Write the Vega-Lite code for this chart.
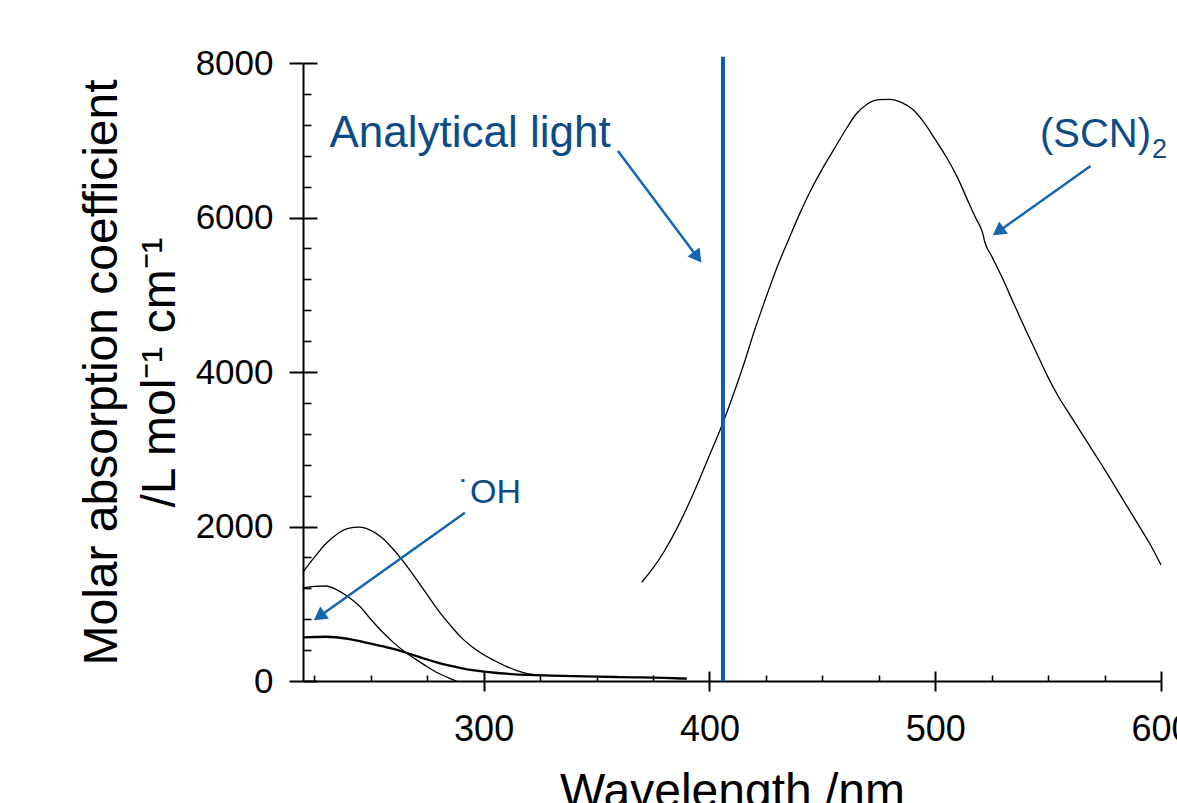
{
  "$schema": "https://vega.github.io/schema/vega-lite/v6.json",
  "width": 858,
  "height": 618,
  "autosize": {"type": "none"},
  "padding": {"left": 303, "top": 63, "right": 16, "bottom": 122},
  "background": "white",
  "config": {"view": {"stroke": null}, "font": "Liberation Sans"},
  "datasets": {
    "curves": [
      {"series": "a", "wl": 220, "eps": 1411}, {"series": "a", "wl": 225, "eps": 1600}, {"series": "a", "wl": 230, "eps": 1774},
      {"series": "a", "wl": 235, "eps": 1900}, {"series": "a", "wl": 240, "eps": 1975}, {"series": "a", "wl": 245, "eps": 1992},
      {"series": "a", "wl": 250, "eps": 1950}, {"series": "a", "wl": 255, "eps": 1855}, {"series": "a", "wl": 260, "eps": 1705},
      {"series": "a", "wl": 265, "eps": 1525}, {"series": "a", "wl": 270, "eps": 1325}, {"series": "a", "wl": 275, "eps": 1118},
      {"series": "a", "wl": 280, "eps": 912}, {"series": "a", "wl": 285, "eps": 730}, {"series": "a", "wl": 290, "eps": 565},
      {"series": "a", "wl": 295, "eps": 440}, {"series": "a", "wl": 300, "eps": 340}, {"series": "a", "wl": 305, "eps": 262},
      {"series": "a", "wl": 310, "eps": 190}, {"series": "a", "wl": 315, "eps": 132}, {"series": "a", "wl": 320, "eps": 92},
      {"series": "a", "wl": 325, "eps": 74},
      {"series": "b", "wl": 220, "eps": 1204}, {"series": "b", "wl": 225, "eps": 1225}, {"series": "b", "wl": 230, "eps": 1230},
      {"series": "b", "wl": 235, "eps": 1180}, {"series": "b", "wl": 240, "eps": 1091}, {"series": "b", "wl": 245, "eps": 970},
      {"series": "b", "wl": 250, "eps": 800}, {"series": "b", "wl": 255, "eps": 640}, {"series": "b", "wl": 260, "eps": 500},
      {"series": "b", "wl": 265, "eps": 380}, {"series": "b", "wl": 270, "eps": 280}, {"series": "b", "wl": 275, "eps": 185},
      {"series": "b", "wl": 280, "eps": 100}, {"series": "b", "wl": 285, "eps": 35}, {"series": "b", "wl": 288, "eps": 0},
      {"series": "c", "wl": 220, "eps": 565}, {"series": "c", "wl": 230, "eps": 573}, {"series": "c", "wl": 240, "eps": 545},
      {"series": "c", "wl": 246, "eps": 509}, {"series": "c", "wl": 250, "eps": 485}, {"series": "c", "wl": 255, "eps": 450},
      {"series": "c", "wl": 260, "eps": 415}, {"series": "c", "wl": 265, "eps": 372}, {"series": "c", "wl": 270, "eps": 325},
      {"series": "c", "wl": 275, "eps": 278}, {"series": "c", "wl": 280, "eps": 235}, {"series": "c", "wl": 285, "eps": 198},
      {"series": "c", "wl": 290, "eps": 166}, {"series": "c", "wl": 295, "eps": 140}, {"series": "c", "wl": 300, "eps": 122},
      {"series": "c", "wl": 305, "eps": 107}, {"series": "c", "wl": 310, "eps": 95}, {"series": "c", "wl": 320, "eps": 78},
      {"series": "c", "wl": 330, "eps": 70}, {"series": "c", "wl": 340, "eps": 62}, {"series": "c", "wl": 350, "eps": 56},
      {"series": "c", "wl": 360, "eps": 51}, {"series": "c", "wl": 370, "eps": 46}, {"series": "c", "wl": 380, "eps": 40},
      {"series": "c", "wl": 390, "eps": 30},
      {"series": "d", "wl": 370, "eps": 1278}, {"series": "d", "wl": 375, "eps": 1460}, {"series": "d", "wl": 380, "eps": 1680},
      {"series": "d", "wl": 385, "eps": 1940}, {"series": "d", "wl": 390, "eps": 2240}, {"series": "d", "wl": 395, "eps": 2570},
      {"series": "d", "wl": 400, "eps": 2920}, {"series": "d", "wl": 405, "eps": 3270}, {"series": "d", "wl": 410, "eps": 3660},
      {"series": "d", "wl": 415, "eps": 4080}, {"series": "d", "wl": 420, "eps": 4540}, {"series": "d", "wl": 425, "eps": 4960},
      {"series": "d", "wl": 430, "eps": 5360}, {"series": "d", "wl": 435, "eps": 5710}, {"series": "d", "wl": 440, "eps": 6050},
      {"series": "d", "wl": 445, "eps": 6360}, {"series": "d", "wl": 450, "eps": 6630}, {"series": "d", "wl": 455, "eps": 6875},
      {"series": "d", "wl": 460, "eps": 7120}, {"series": "d", "wl": 465, "eps": 7340}, {"series": "d", "wl": 470, "eps": 7470},
      {"series": "d", "wl": 475, "eps": 7525}, {"series": "d", "wl": 480, "eps": 7530}, {"series": "d", "wl": 485, "eps": 7490},
      {"series": "d", "wl": 490, "eps": 7400}, {"series": "d", "wl": 495, "eps": 7230}, {"series": "d", "wl": 500, "eps": 7010},
      {"series": "d", "wl": 505, "eps": 6780}, {"series": "d", "wl": 510, "eps": 6510}, {"series": "d", "wl": 515, "eps": 6180},
      {"series": "d", "wl": 518, "eps": 5990}, {"series": "d", "wl": 521, "eps": 5800}, {"series": "d", "wl": 522, "eps": 5680},
      {"series": "d", "wl": 525, "eps": 5500}, {"series": "d", "wl": 530, "eps": 5200}, {"series": "d", "wl": 535, "eps": 4870},
      {"series": "d", "wl": 540, "eps": 4550}, {"series": "d", "wl": 545, "eps": 4240}, {"series": "d", "wl": 550, "eps": 3930},
      {"series": "d", "wl": 555, "eps": 3660}, {"series": "d", "wl": 560, "eps": 3430}, {"series": "d", "wl": 565, "eps": 3200},
      {"series": "d", "wl": 570, "eps": 2970}, {"series": "d", "wl": 575, "eps": 2740}, {"series": "d", "wl": 580, "eps": 2500},
      {"series": "d", "wl": 585, "eps": 2260}, {"series": "d", "wl": 590, "eps": 2020}, {"series": "d", "wl": 595, "eps": 1780},
      {"series": "d", "wl": 600, "eps": 1502}
    ],
    "analytical": [{"wl": 406, "lo": 0, "hi": 8080}],
    "arrows": [
      {"id": "light", "xa": 359.5, "ya": 6861, "xb": 393.6, "yb": 5527},
      {"id": "scn", "xa": 568.8, "ya": 6667, "xb": 529.4, "yb": 5849},
      {"id": "oh", "xa": 291.7, "ya": 2179, "xb": 228.6, "yb": 865}
    ],
    "heads": [
      {"id": "light", "wl": 394.7, "eps": 5486},
      {"id": "scn", "wl": 527.9, "eps": 5819},
      {"id": "oh", "wl": 227.2, "eps": 835}
    ],
    "labels": [
      {"id": "light", "text": "Analytical light", "wl": 231.7, "eps": 6913},
      {"id": "scn", "text": "(SCN)", "wl": 546.4, "eps": 6913},
      {"id": "oh", "text": "˙OH", "wl": 289.0, "eps": 2304}
    ],
    "subs": [{"text": "2", "wl": 596.0, "eps": 6770}]
  },
  "resolve": {"axis": {"x": "independent", "y": "independent"}},
  "layer": [
    {
      "data": {"name": "curves"},
      "transform": [{"filter": "datum.series !== 'c'"}],
      "mark": {"type": "line", "interpolate": "monotone", "color": "black", "strokeWidth": 1.3},
      "encoding": {
        "x": {
          "field": "wl", "type": "quantitative",
          "scale": {"domain": [220, 600], "nice": false, "zero": false},
          "axis": {
            "orient": "bottom", "values": [300, 400, 500, 600], "format": "d",
            "tickSize": 10, "tickWidth": 2, "tickColor": "black",
            "domainColor": "black", "domainWidth": 2,
            "labelFontSize": 36, "labelColor": "black", "labelPadding": 21, "labelFlush": false, "labelOverlap": false,
            "grid": false,
            "title": "Wavelength /nm", "titleFontSize": 48, "titleFontWeight": "normal", "titleColor": "black",
            "titleBaseline": "alphabetic", "titleAlign": "center", "titleX": 429, "titleY": 125
          }
        },
        "y": {
          "field": "eps", "type": "quantitative",
          "scale": {"domain": [0, 8000], "nice": false},
          "axis": {
            "orient": "left", "values": [0, 2000, 4000, 6000, 8000], "format": "d",
            "tickSize": 14, "tickWidth": 2, "tickColor": "black",
            "domainColor": "black", "domainWidth": 2,
            "labelFontSize": 35, "labelColor": "black", "labelPadding": 16, "labelFlush": false, "labelOverlap": false,
            "grid": false,
            "title": ["Molar absorption coefficient", "/L mol⁻¹ cm⁻¹"],
            "titleFontSize": 48, "titleFontWeight": "normal", "titleColor": "black",
            "titleAngle": -90, "titleAlign": "center", "titleBaseline": "alphabetic",
            "titleX": -187, "titleY": 309, "titleLineHeight": 58
          }
        },
        "detail": {"field": "series", "type": "nominal"}
      }
    },
    {
      "data": {"name": "curves"},
      "transform": [{"filter": "datum.series === 'c'"}],
      "mark": {"type": "line", "interpolate": "monotone", "color": "black", "strokeWidth": 2.3},
      "encoding": {
        "x": {
          "field": "wl", "type": "quantitative",
          "axis": {"orient": "bottom", "values": [300, 400, 500, 600], "tickSize": -10, "tickWidth": 2, "tickColor": "black", "domain": false, "labels": false, "grid": false, "title": null}
        },
        "y": {
          "field": "eps", "type": "quantitative",
          "axis": {"orient": "left", "values": [0, 2000, 4000, 6000, 8000], "tickSize": -14, "tickWidth": 2, "tickColor": "black", "domain": false, "labels": false, "grid": false, "title": null}
        }
      }
    },
    {
      "data": {"name": "analytical"},
      "mark": {"type": "rule", "color": "#0a5fae", "strokeWidth": 4},
      "encoding": {
        "x": {
          "field": "wl", "type": "quantitative",
          "axis": {"orient": "bottom", "values": [225, 250, 275, 325, 350, 375, 425, 450, 475, 525, 550, 575], "tickSize": -6, "tickWidth": 1.6, "tickColor": "black", "domain": false, "labels": false, "grid": false, "title": null}
        },
        "y": {
          "field": "lo", "type": "quantitative",
          "axis": {"orient": "left", "values": [400, 800, 1200, 1600, 2400, 2800, 3200, 3600, 4400, 4800, 5200, 5600, 6400, 6800, 7200, 7600], "tickSize": -8, "tickWidth": 1.6, "tickColor": "black", "domain": false, "labels": false, "grid": false, "title": null}
        },
        "y2": {"field": "hi"}
      }
    },
    {
      "data": {"name": "arrows"},
      "mark": {"type": "rule", "color": "#1565b0", "strokeWidth": 2.5},
      "encoding": {
        "x": {"field": "xa", "type": "quantitative", "axis": null},
        "y": {"field": "ya", "type": "quantitative", "axis": null},
        "x2": {"field": "xb"},
        "y2": {"field": "yb"}
      }
    },
    {
      "data": {"name": "heads"},
      "transform": [{"filter": "datum.id === 'light'"}],
      "mark": {"type": "point", "shape": "triangle-up", "filled": true, "size": 230, "color": "#1565b0", "opacity": 1, "angle": 143.2},
      "encoding": {
        "x": {"field": "wl", "type": "quantitative", "axis": null},
        "y": {"field": "eps", "type": "quantitative", "axis": null}
      }
    },
    {
      "data": {"name": "heads"},
      "transform": [{"filter": "datum.id !== 'light'"}],
      "mark": {"type": "point", "shape": "triangle-up", "filled": true, "size": 230, "color": "#1565b0", "opacity": 1, "angle": 234.6},
      "encoding": {
        "x": {"field": "wl", "type": "quantitative", "axis": null},
        "y": {"field": "eps", "type": "quantitative", "axis": null}
      }
    },
    {
      "data": {"name": "labels"},
      "transform": [{"filter": "datum.id === 'light'"}],
      "mark": {"type": "text", "align": "left", "baseline": "alphabetic", "fontSize": 44, "color": "#0d4b87"},
      "encoding": {
        "x": {"field": "wl", "type": "quantitative", "axis": null},
        "y": {"field": "eps", "type": "quantitative", "axis": null},
        "text": {"field": "text"}
      }
    },
    {
      "data": {"name": "labels"},
      "transform": [{"filter": "datum.id === 'scn'"}],
      "mark": {"type": "text", "align": "left", "baseline": "alphabetic", "fontSize": 40, "color": "#0d4b87"},
      "encoding": {
        "x": {"field": "wl", "type": "quantitative", "axis": null},
        "y": {"field": "eps", "type": "quantitative", "axis": null},
        "text": {"field": "text"}
      }
    },
    {
      "data": {"name": "labels"},
      "transform": [{"filter": "datum.id === 'oh'"}],
      "mark": {"type": "text", "align": "left", "baseline": "alphabetic", "fontSize": 34, "color": "#0d4b87"},
      "encoding": {
        "x": {"field": "wl", "type": "quantitative", "axis": null},
        "y": {"field": "eps", "type": "quantitative", "axis": null},
        "text": {"field": "text"}
      }
    },
    {
      "data": {"name": "subs"},
      "mark": {"type": "text", "align": "left", "baseline": "alphabetic", "fontSize": 27, "color": "#0d4b87"},
      "encoding": {
        "x": {"field": "wl", "type": "quantitative", "axis": null},
        "y": {"field": "eps", "type": "quantitative", "axis": null},
        "text": {"field": "text"}
      }
    }
  ]
}
